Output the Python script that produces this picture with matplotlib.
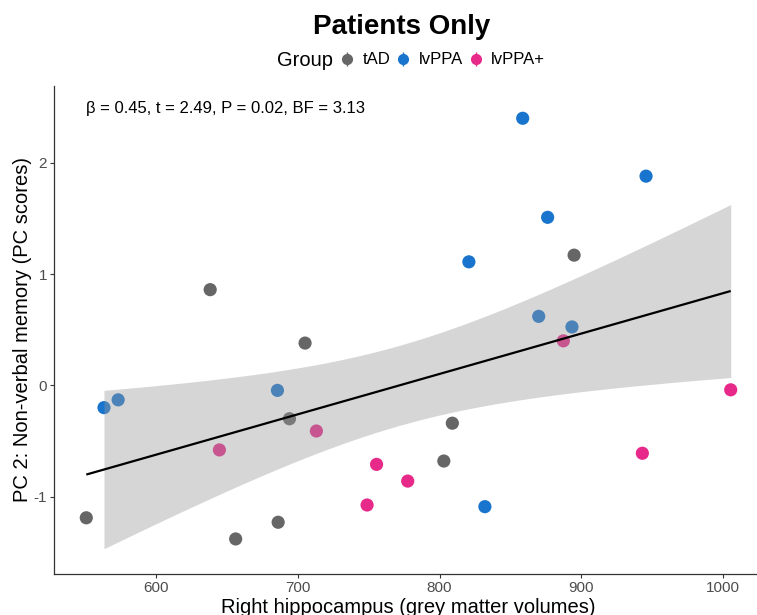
import numpy as np
import matplotlib
matplotlib.use("Agg")
import matplotlib.pyplot as plt
from matplotlib.lines import Line2D

plt.rcParams['font.family'] = ['Liberation Sans', 'DejaVu Sans']
plt.rcParams['axes.unicode_minus'] = False

# ---- data ----
tad_x = [550.5, 638, 656, 686, 694, 705, 803, 809, 895]
tad_y = [-1.19, 0.86, -1.38, -1.23, -0.30, 0.38, -0.68, -0.34, 1.17]
lvppa_x = [563, 573, 685.5, 820.7, 832, 858.7, 870, 876.3, 893.5, 945.8]
lvppa_y = [-0.20, -0.13, -0.045, 1.11, -1.09, 2.40, 0.62, 1.51, 0.525, 1.88]
lvppa_plus_x = [644.5, 713, 748.8, 755.5, 777.5, 887.4, 943.2, 1005.6]
lvppa_plus_y = [-0.58, -0.41, -1.075, -0.71, -0.86, 0.40, -0.61, -0.04]

groups = ["tAD", "lvPPA", "lvPPA+"]
colors = ["#666666", "#1874CD", "#E7298A"]
stats_text = "β = 0.45, t = 2.49, P = 0.02, BF = 3.13"
t_crit = 2.0595  # 95% t quantile, df = 25

xs = [tad_x, lvppa_x, lvppa_plus_x]
ys = [tad_y, lvppa_y, lvppa_plus_y]

# ---- figure ----
W, H = 757, 615
fig = plt.figure(figsize=(W / 100, H / 100), dpi=100)
ax = fig.add_axes([54 / W, 41 / H, 709 / W, 488 / H])

for gx, gy, c in zip(xs, ys, colors):
    ax.scatter(gx, gy, s=90, color=c, edgecolors='none', zorder=2)

# linear fit with 95% CI
allx = np.concatenate([np.asarray(a, float) for a in xs])
ally = np.concatenate([np.asarray(a, float) for a in ys])
n = len(allx)
b, a = np.polyfit(allx, ally, 1)
res = ally - (a + b * allx)
s = np.sqrt(np.sum(res ** 2) / (n - 2))
xbar = allx.mean()
sxx = np.sum((allx - xbar) ** 2)

xl = np.linspace(allx.min(), allx.max(), 200)
ax.plot(xl, a + b * xl, color='black', lw=1.6, zorder=4, solid_capstyle='butt')

xb = np.linspace(np.sort(allx)[1], allx.max(), 200)
hw = t_crit * s * np.sqrt(1 / n + (xb - xbar) ** 2 / sxx)
ax.fill_between(xb, a + b * xb - hw, a + b * xb + hw, color='#999999',
                alpha=0.4, linewidth=0, zorder=3)

ax.set_xlim(527.7, 1028.4)
ax.set_ylim(-1.695, 2.69)
ax.set_xticks([600, 700, 800, 900, 1000])
ax.set_yticks([-1, 0, 1, 2])
for sp in ['top', 'right']:
    ax.spines[sp].set_visible(False)
for sp in ['left', 'bottom']:
    ax.spines[sp].set_linewidth(0.9)
    ax.spines[sp].set_color('#333333')
ax.tick_params(axis='both', length=3, width=0.8, color='#333333',
               labelsize=11, labelcolor='#4D4D4D', pad=2)

ax.set_xlabel("Right hippocampus (grey matter volumes)", fontsize=14.5, labelpad=2)
ax.set_ylabel("PC 2: Non-verbal memory (PC scores)", fontsize=14.5, labelpad=1)

ax.text(550.5, 2.49, stats_text, fontsize=12, ha='left', va='center')

fig.text(402 / W, 1 - 27 / H, "Patients Only", fontsize=20, fontweight='bold',
         ha='center', va='center')

fig.text(333 / W, 1 - 60 / H, "Group", fontsize=14.5, ha='right', va='center')
handles = [(Line2D([], [], marker='o', color=c, ls='none', markersize=7),
            Line2D([], [], marker='|', color=c, ls='none', markersize=10, mew=1.0))
           for c in colors]
fig.legend(handles, groups, loc='center left', bbox_to_anchor=(339 / W, 1 - 60 / H),
           ncol=3, frameon=False, fontsize=12, handlelength=1.0, handletextpad=0.4,
           columnspacing=0.3, borderaxespad=0, borderpad=0)

fig.savefig("out.png", dpi=100)
